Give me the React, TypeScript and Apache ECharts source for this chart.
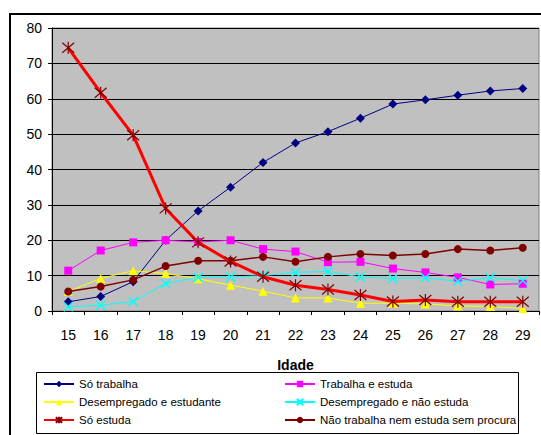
import React, { useEffect, useRef } from "react";
import * as echarts from "echarts";

const idades = ["15", "16", "17", "18", "19", "20", "21", "22", "23", "24", "25", "26", "27", "28", "29"];

const soTrabalha = [2.6, 4.1, 8.3, 20, 28.3, 35, 42, 47.5, 50.7, 54.5, 58.5, 59.7, 61, 62.2, 62.9];
const trabalhaEstuda = [11.4, 17.1, 19.4, 20, 19.5, 20, 17.5, 16.8, 13.8, 13.9, 12, 10.9, 9.5, 7.5, 7.7];
const desempEstudante = [5.5, 9.2, 11.4, 10.6, 9.1, 7.3, 5.6, 3.7, 3.7, 2.2, 2.2, 2.0, 1.4, 1.3, 0.7];
const desempNaoEstuda = [1.2, 1.6, 2.7, 7.8, 9.5, 9.6, 10, 10.9, 11.2, 9.6, 9.2, 9.4, 8.4, 9.4, 8.6];
const soEstuda = [74.4, 61.7, 49.7, 29, 19.4, 14, 9.7, 7.3, 6.1, 4.5, 2.7, 3.1, 2.6, 2.6, 2.6];
const naoTrabalhaNemEstuda = [5.5, 6.9, 8.8, 12.7, 14.2, 14.2, 15.3, 13.9, 15.3, 16.1, 15.7, 16.1, 17.5, 17.1, 17.9];

const yTicks = { min: 0, max: 80, interval: 10 };

const FONT = "Liberation Sans, Arial, sans-serif";

const crossSymbol = "path://M0,0L10,10M10,0L0,10";
const starSymbol = "path://M0,0L10,10M10,0L0,10M5,-1L5,11";

export default function App() {
  const ref = useRef<HTMLDivElement>(null);

  useEffect(() => {
    if (!ref.current) return;
    const chart = echarts.init(ref.current, undefined, { renderer: "svg" });

    const legendText = { fontFamily: FONT, fontSize: 11.5, color: "#000", lineHeight: 14 };
    const legendBase = {
      top: 377,
      height: 60,
      padding: 0,
      orient: "vertical",
      itemWidth: 30,
      itemHeight: 8,
      itemGap: 4,
      textStyle: legendText,
    };

    chart.setOption({
      animation: false,
      backgroundColor: "#fff",
      textStyle: { fontFamily: FONT },
      grid: {
        left: 52,
        top: 28,
        right: 2,
        bottom: 124,
        show: true,
        backgroundColor: "#C0C0C0",
        borderColor: "#808080",
        borderWidth: 1,
      },
      xAxis: {
        type: "category",
        data: idades,
        boundaryGap: true,
        name: "Idade",
        nameLocation: "middle",
        nameGap: 47,
        nameTextStyle: { fontFamily: FONT, fontSize: 14, fontWeight: "bold", color: "#000" },
        axisLine: { lineStyle: { color: "#000", width: 1 } },
        axisTick: { show: true, interval: 0, length: 4, lineStyle: { color: "#000" } },
        axisLabel: { fontFamily: FONT, fontSize: 14, color: "#000", margin: 17, interval: 0 },
      },
      yAxis: {
        type: "value",
        min: yTicks.min,
        max: yTicks.max,
        interval: yTicks.interval,
        axisLine: { show: true, lineStyle: { color: "#000", width: 1 } },
        axisTick: { show: true, length: 4, lineStyle: { color: "#000" } },
        axisLabel: { fontFamily: FONT, fontSize: 14, color: "#000", margin: 10 },
        splitLine: { show: true, lineStyle: { color: "#000", width: 1 } },
      },
      legend: [
        {
          ...legendBase,
          left: 43,
          data: ["Só trabalha", "Desempregado e estudante", "Só estuda"],
        },
        {
          ...legendBase,
          left: 284,
          data: ["Trabalha e estuda", "Desempregado e não estuda", "Não trabalha nem estuda sem procura"],
        },
      ],
      graphic: [
        {
          type: "rect",
          shape: { x: 10, y: 14, width: 600, height: 500 },
          style: { fill: "none", stroke: "#000", lineWidth: 2 },
          silent: true,
          z: 100,
        },
        {
          type: "rect",
          shape: { x: 36.5, y: 372.5, width: 482, height: 61 },
          style: { fill: "none", stroke: "#000", lineWidth: 1 },
          silent: true,
          z: 100,
        },
      ],
      series: [
        {
          name: "Só trabalha",
          type: "line",
          data: soTrabalha,
          symbol: "diamond",
          symbolSize: 9,
          lineStyle: { color: "#000080", width: 1 },
          itemStyle: { color: "#000080" },
          z: 3,
        },
        {
          name: "Trabalha e estuda",
          type: "line",
          data: trabalhaEstuda,
          symbol: "rect",
          symbolSize: 8,
          lineStyle: { color: "#FF00FF", width: 1 },
          itemStyle: { color: "#FF00FF" },
          z: 3,
        },
        {
          name: "Desempregado e estudante",
          type: "line",
          data: desempEstudante,
          symbol: "triangle",
          symbolSize: 9,
          lineStyle: { color: "#FFFF00", width: 1 },
          itemStyle: { color: "#FFFF00" },
          z: 3,
        },
        {
          name: "Desempregado e não estuda",
          type: "line",
          data: desempNaoEstuda,
          symbol: crossSymbol,
          symbolSize: 9,
          lineStyle: { color: "#00FFFF", width: 1 },
          itemStyle: { color: "#00FFFF", borderColor: "#00FFFF", borderWidth: 1.5 },
          z: 3,
        },
        {
          name: "Só estuda",
          type: "line",
          data: soEstuda,
          symbol: starSymbol,
          symbolSize: 12,
          lineStyle: { color: "#FF0000", width: 3 },
          itemStyle: { color: "#800000", borderColor: "#800000", borderWidth: 1.2 },
          z: 4,
        },
        {
          name: "Não trabalha nem estuda sem procura",
          type: "line",
          data: naoTrabalhaNemEstuda,
          symbol: "circle",
          symbolSize: 8,
          lineStyle: { color: "#800000", width: 1.5 },
          itemStyle: { color: "#800000" },
          z: 3,
        },
      ],
    });

    return () => chart.dispose();
  }, []);

  return (
    <div
      ref={ref}
      style={{ position: "fixed", left: 0, top: 0, width: 541, height: 435 }}
    />
  );
}
